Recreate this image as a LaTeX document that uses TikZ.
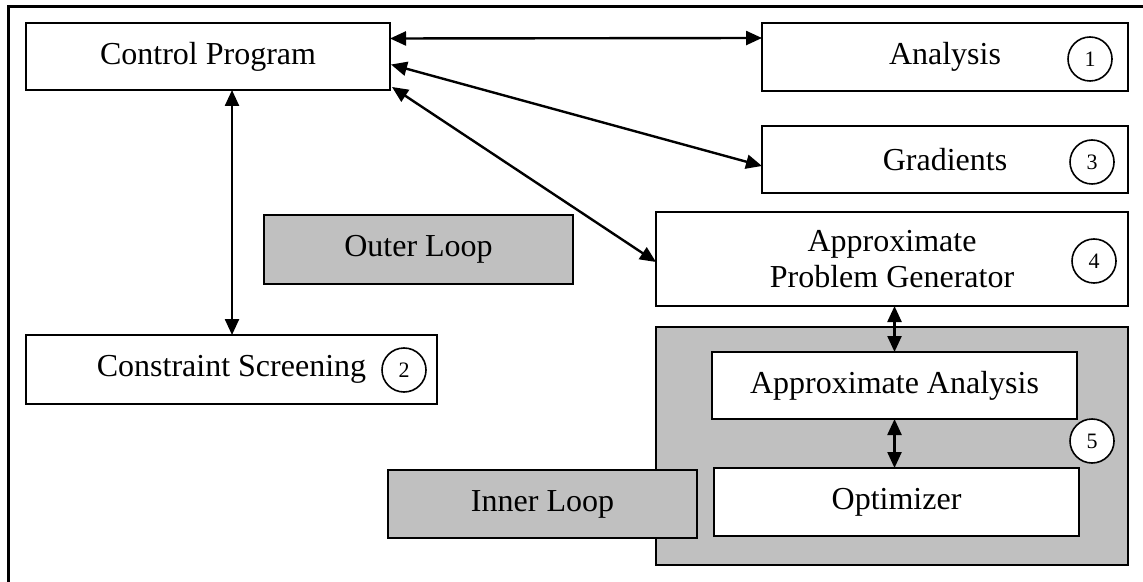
\documentclass[tikz,border=0pt]{standalone}
\usepackage{fontspec}
\setmainfont{Liberation Serif}
\usetikzlibrary{arrows.meta,calc}

\begin{document}
\begin{tikzpicture}[
    x=0.5pt, y=-0.5pt,
    box/.style={rectangle, draw, line width=1pt, fill=white, inner sep=0pt, outer sep=0pt,
      font=\fontsize{16}{18}\selectfont, align=center},
    loopbox/.style={box, fill=loopgray},
    num/.style={circle, draw, line width=0.8pt, fill=white, minimum size=22pt, inner sep=0pt,
      font=\fontsize{11}{12}\selectfont},
    link/.style={draw, line width=1.2pt, {Triangle[length=8pt,width=7pt]}-{Triangle[length=8pt,width=7pt]}}
]
  \definecolor{loopgray}{HTML}{C0C0C0}
  \useasboundingbox (0,0) rectangle (1143,582);
  % frame
  \draw[line width=1.5pt] (8,582) -- (8,7) -- (1143,7);
  % outer loop
  \node[box, minimum width=182pt, minimum height=33.5pt] (ctrl) at (208,56.5) {Control Program};
  \node[box, minimum width=183pt, minimum height=34pt] (analysis) at (945,57) {Analysis};
  \node[box, minimum width=183pt, minimum height=33.5pt] (grad) at (945,160) {Gradients};
  \node[box, minimum width=236pt, minimum height=47pt] (apg) at (892,259) {Approximate\\Problem Generator};
  \node[loopbox, minimum width=154.5pt, minimum height=34.5pt] (outer) at (418.5,249.5) {Outer Loop};
  \node[box, minimum width=205.5pt, minimum height=34.5pt] (screen) at (231.5,369.5) {Constraint Screening};
  % inner loop
  \node[loopbox, minimum width=236pt, minimum height=119pt] (innerbox) at (892,446) {};
  \node[loopbox, minimum width=154.5pt, minimum height=34pt] (inner) at (542.5,504) {Inner Loop};
  \node[box, minimum width=182.5pt, minimum height=33.5pt] (approx) at (894.5,385.5) {Approximate Analysis};
  \node[box, minimum width=182.5pt, minimum height=34pt] (optim) at (896.5,502) {Optimizer};
  % step numbers
  \foreach \n/\x/\y in {1/1090/59, 2/404/370, 3/1092/162, 4/1094/261, 5/1092/441} {
    \node[num] (n\n) at (\x,\y) {\n};
  }
  % data flow
  \draw[link] ($(ctrl.east)+(0,-18)$) -- ($(analysis.west)+(0,-19)$);
  \draw[link] ($(ctrl.east)+(1,8)$) -- ($(grad.west)+(0,6)$);
  \draw[link] ($(ctrl.south east)+(2,-3)$) -- ($(apg.west)+(0,3)$);
  \draw[link] ([xshift=12pt]ctrl.south) -- ([xshift=12pt]ctrl.south |- screen.north);
  \draw[link] (apg.south -| approx.north) -- (approx.north);
  \draw[link] (approx.south) -- (approx.south |- optim.north);
\end{tikzpicture}
\end{document}
